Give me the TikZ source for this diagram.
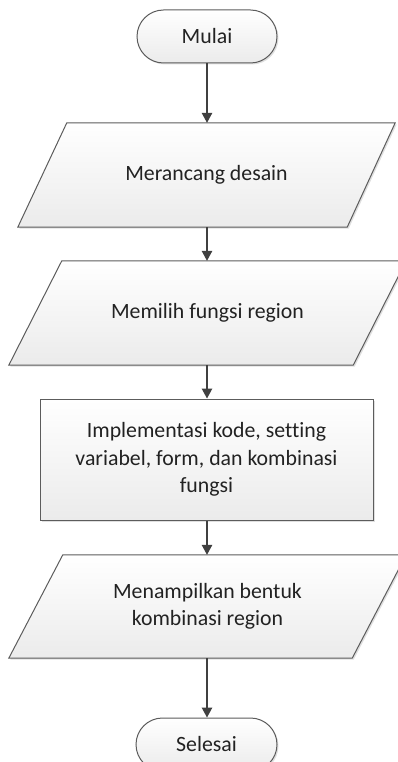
\documentclass[tikz,border=0pt]{standalone}
\usepackage{fontspec}
\setmainfont{Carlito}[Ligatures=NoCommon]
\usetikzlibrary{arrows.meta,shadows,backgrounds,shapes.misc,calc}
\definecolor{linegray}{HTML}{5C5C5C}
\definecolor{arrowgray}{HTML}{404040}
\definecolor{fillgray}{HTML}{EBEBEB}
\definecolor{textgray}{HTML}{222222}
\tikzset{
  box/.style={draw=linegray, line width=1pt, top color=white, bottom color=fillgray,
    drop shadow={shadow xshift=1.5pt, shadow yshift=-1.5pt, opacity=0.25}},
  term/.style={box, rounded rectangle, minimum width=140pt, minimum height=53pt, inner sep=0pt},
  procbox/.style={box, rectangle, align=center, inner sep=0pt},
  paranode/.style={rectangle, draw=none, align=center, inner sep=0pt},
  arr/.style={draw=arrowgray, line width=1.3pt, -{Triangle[length=10pt,width=10.5pt]}},
}
\begin{document}
\begin{tikzpicture}[x=1pt,y=-1pt, font=\fontsize{21.8}{27.5}\selectfont, text=textgray]
\useasboundingbox (0,0) rectangle (398,762);
% terminals
\node[term] (start) at (207,36.5) {Mulai};
\node[term, minimum width=141pt] (stop) at (206.5,744.5) {Selesai};
% parallelogram text nodes
\node[paranode, minimum width=377pt, minimum height=104pt] (p1) at (206.5,175) {Merancang desain};
\node[paranode, minimum width=397pt, minimum height=104pt] (p2) at (207.5,313) {Memilih fungsi region};
\node[procbox, minimum width=333pt, minimum height=121pt] (impl) at (206.5,459.5)
  {Implementasi kode, setting\\variabel, form, dan kombinasi\\fungsi};
\node[paranode, minimum width=397pt, minimum height=103pt] (p4) at (207.5,606.5)
  {Menampilkan bentuk\\kombinasi region};
% parallelogram outlines
\begin{scope}[on background layer]
  \path[box] (p1.south west) -- ($(p1.north west)+(49,0)$) -- (p1.north east)
    -- ($(p1.south east)+(-48,0)$) -- cycle;
  \path[box] (p2.south west) -- ($(p2.north west)+(53,0)$) -- (p2.north east)
    -- ($(p2.south east)+(-53,0)$) -- cycle;
  \path[box] (p4.south west) -- ($(p4.north west)+(54,0)$) -- (p4.north east)
    -- ($(p4.south east)+(-54,0)$) -- cycle;
\end{scope}
% connectors
\draw[arr] (start.south) -- (start.south |- p1.north);
\draw[arr] (start.south |- p1.south) -- (start.south |- p2.north);
\draw[arr] (start.south |- p2.south) -- (start.south |- impl.north);
\draw[arr] (start.south |- impl.south) -- (start.south |- p4.north);
\draw[arr] (start.south |- p4.south) -- (start.south |- stop.north);
\end{tikzpicture}
\end{document}
